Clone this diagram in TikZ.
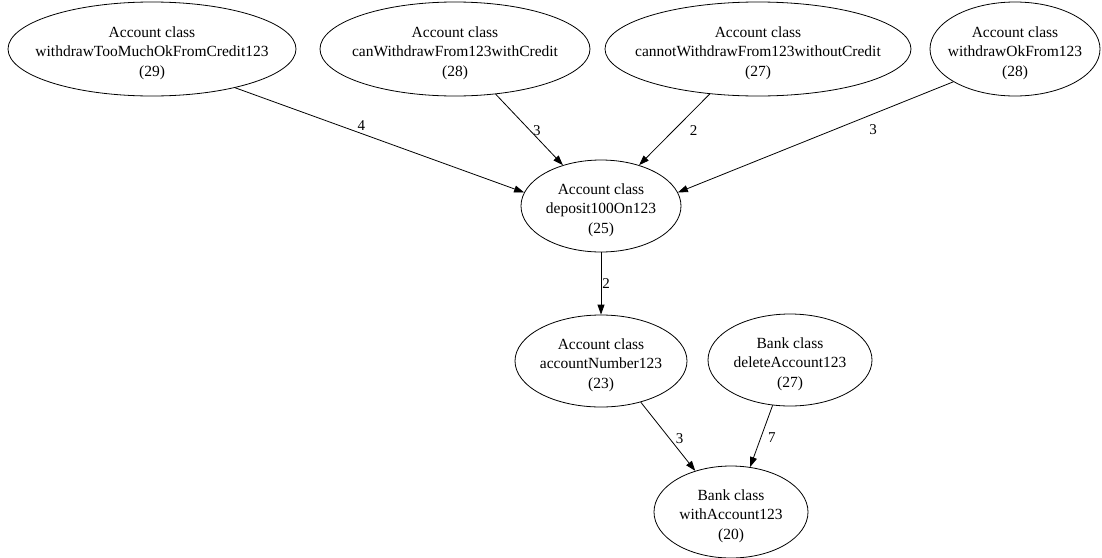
\documentclass[tikz,border=0pt]{standalone}
\usepackage{fontspec}
\setmainfont{Liberation Serif}
\usetikzlibrary{shapes.geometric,arrows.meta}
\newcommand{\toprow}{\rule{0pt}{19pt}}
\begin{document}
\begin{tikzpicture}[x=1pt,y=-1pt,
  every node/.style={font=\fontsize{15.5}{19.5}\selectfont},
  test/.style={draw, ellipse, line width=0.8pt, inner xsep=-80pt, inner ysep=-40pt, align=center},
  dep/.style={-{Triangle[length=10pt,width=7pt]}, line width=0.8pt},
  lbl/.style={inner sep=0pt, font=\fontsize{15}{17}\selectfont}]
\useasboundingbox (0,0) rectangle (1102,557);

% test nodes (centres and sizes in px)
\node[test, minimum width=288, minimum height=94] (n1) at (152,49)
  {\toprow Account class\\withdrawTooMuchOkFromCredit123\\(29)};
\node[test, minimum width=270, minimum height=94] (n2) at (455,49)
  {\toprow Account class\\canWithdrawFrom123withCredit\\(28)};
\node[test, minimum width=306, minimum height=94] (n3) at (758,49)
  {\toprow Account class\\cannotWithdrawFrom123withoutCredit\\(27)};
\node[test, minimum width=170, minimum height=94] (n4) at (1015,49)
  {\toprow Account class\\withdrawOkFrom123\\(28)};
\node[test, minimum width=160, minimum height=92] (n5) at (601,206)
  {\toprow Account class\\deposit100On123\\(25)};
\node[test, minimum width=172, minimum height=92] (n6) at (601,361)
  {\toprow Account class\\accountNumber123\\(23)};
\node[test, minimum width=164, minimum height=92] (n7) at (790,360)
  {\toprow Bank class\\deleteAccount123\\(27)};
\node[test, minimum width=154, minimum height=92] (n8) at (731,512)
  {\toprow Bank class\\withAccount123\\(20)};

% dependencies with their weights
\draw[dep] (n1.-25) -- node[lbl, pos=0.43, yshift=7, xshift=2] {4} (n5.170);
\draw[dep] (n2.-48) -- node[lbl, pos=0.51, xshift=7] {3} (n5.133);
\draw[dep] (n3.-137) -- node[lbl, pos=0.51, xshift=20] {2} (n5.47);
\draw[dep] (n4.-152) -- node[lbl, pos=0.28, yshift=-17, xshift=-3] {3} (n5.10);
\draw[dep] (n5.south) -- node[lbl, pos=0.5, xshift=5] {2} (n6.north);
\draw[dep] (n6.-46) -- node[lbl, pos=0.53, xshift=10] {3} (n8.131);
\draw[dep] (n7.-111) -- node[lbl, pos=0.52, xshift=11] {7} (n8.67);
\end{tikzpicture}
\end{document}
